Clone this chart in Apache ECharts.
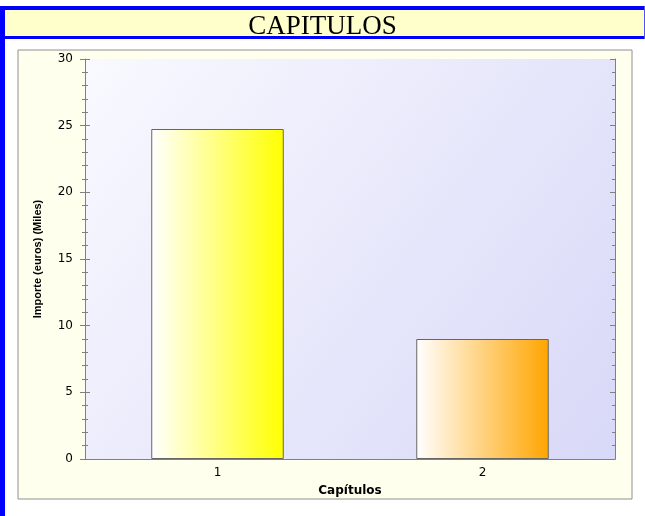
<!DOCTYPE html>
<html><head><meta charset="utf-8">
<script src="https://cdn.jsdelivr.net/npm/echarts@6/dist/echarts.min.js"></script>
<style>html,body{margin:0;padding:0;background:#fff;}#c{width:645px;height:516px;}</style>
</head><body><div id="c"></div>
<script>
const categories = ['1', '2'];
const values = [24.75, 9.0];
const barEnds = ['#ffff00', '#ffa500'];
const yTicks = [0, 5, 10, 15, 20, 25, 30];

const chart = echarts.init(document.getElementById('c'), null, {renderer: 'canvas'});
const grad = (c) => ({type: 'linear', x: 0, y: 0, x2: 1, y2: 0, colorStops: [{offset: 0, color: '#ffffff'}, {offset: 1, color: c}]});
const axisGray = '#808080';
const font = 'DejaVu Sans, Verdana, sans-serif';
const yBase = {type: 'value', min: yTicks[0], max: yTicks[yTicks.length - 1], interval: 5, splitLine: {show: false},
  axisLine: {show: true, lineStyle: {color: axisGray}}};
chart.setOption({
  animation: false,
  graphic: [
    {type: 'rect', shape: {x: 18, y: 50, width: 614, height: 449}, style: {fill: '#ffffee', stroke: '#909090', lineWidth: 1}, z: -10},
    {type: 'rect', shape: {x: 0, y: 10, width: 645, height: 26}, style: {fill: '#ffffcc'}, z: -10},
    {type: 'rect', shape: {x: 0, y: 6, width: 645, height: 4}, style: {fill: '#0000ff'}, z: -5},
    {type: 'rect', shape: {x: 0, y: 36, width: 645, height: 3}, style: {fill: '#0000ff'}, z: -5},
    {type: 'rect', shape: {x: 0, y: 6, width: 5, height: 510}, style: {fill: '#0000ff'}, z: -5},
    {type: 'rect', shape: {x: 644, y: 6, width: 1, height: 33}, style: {fill: '#5050ff'}, z: -5}
  ],
  title: {text: 'CAPITULOS', left: 'center', top: 8,
    textStyle: {fontFamily: 'Liberation Serif, Times New Roman, serif', fontSize: 27, fontWeight: 'normal', color: '#000'}},
  grid: {left: 85, right: 30, top: 59, bottom: 57, show: true, borderWidth: 0,
    backgroundColor: {type: 'linear', x: 0, y: 0, x2: 1, y2: 1, colorStops: [{offset: 0, color: '#f9f9ff'}, {offset: 1, color: '#d8d8f8'}]}},
  xAxis: [
    {type: 'category', data: categories, position: 'bottom', name: 'Capítulos', nameLocation: 'middle', nameGap: 26,
      nameTextStyle: {fontFamily: font, fontSize: 12, fontWeight: 'bold', color: '#000'},
      axisLine: {lineStyle: {color: axisGray}}, axisTick: {alignWithLabel: true, length: 4, lineStyle: {color: axisGray}},
      axisLabel: {fontFamily: font, fontSize: 12, color: '#000', margin: 8}},
    {type: 'category', data: categories, position: 'bottom', gridIndex: 0,
      axisLine: {show: false}, axisTick: {alignWithLabel: true, inside: true, length: 4, lineStyle: {color: axisGray}},
      axisLabel: {show: false}},
    {type: 'category', data: categories, position: 'top',
      axisLine: {show: true, lineStyle: {color: axisGray}}, axisTick: {alignWithLabel: true, inside: true, length: 5, lineStyle: {color: axisGray}},
      axisLabel: {show: false}}
  ],
  yAxis: [
    Object.assign({}, yBase, {position: 'left', name: 'Importe (euros) (Miles)', nameLocation: 'middle', nameGap: 42,
      nameTextStyle: {fontFamily: 'Liberation Sans, Arial, sans-serif', fontSize: 11, fontWeight: 'bold', color: '#000'},
      axisTick: {show: true, length: 5, lineStyle: {color: axisGray}},
      minorTick: {show: true, splitNumber: 5, length: 3, lineStyle: {color: axisGray}},
      axisLabel: {fontFamily: font, fontSize: 12, color: '#000', margin: 12}}),
    Object.assign({}, yBase, {position: 'left', axisLine: {show: false},
      axisTick: {show: true, inside: true, length: 5, lineStyle: {color: axisGray}},
      minorTick: {show: true, splitNumber: 5, length: 3, lineStyle: {color: axisGray}},
      axisLabel: {show: false}}),
    Object.assign({}, yBase, {position: 'right',
      axisTick: {show: true, inside: true, length: 5, lineStyle: {color: axisGray}},
      minorTick: {show: true, splitNumber: 5, length: 3, lineStyle: {color: axisGray}},
      axisLabel: {show: false}})
  ],
  series: [{
    type: 'bar', xAxisIndex: 0, yAxisIndex: 0, barWidth: '50%',
    data: values.map((v, i) => ({value: v, itemStyle: {color: grad(barEnds[i]), borderColor: '#666', borderWidth: 1}}))
  }]
});
</script></body></html>
